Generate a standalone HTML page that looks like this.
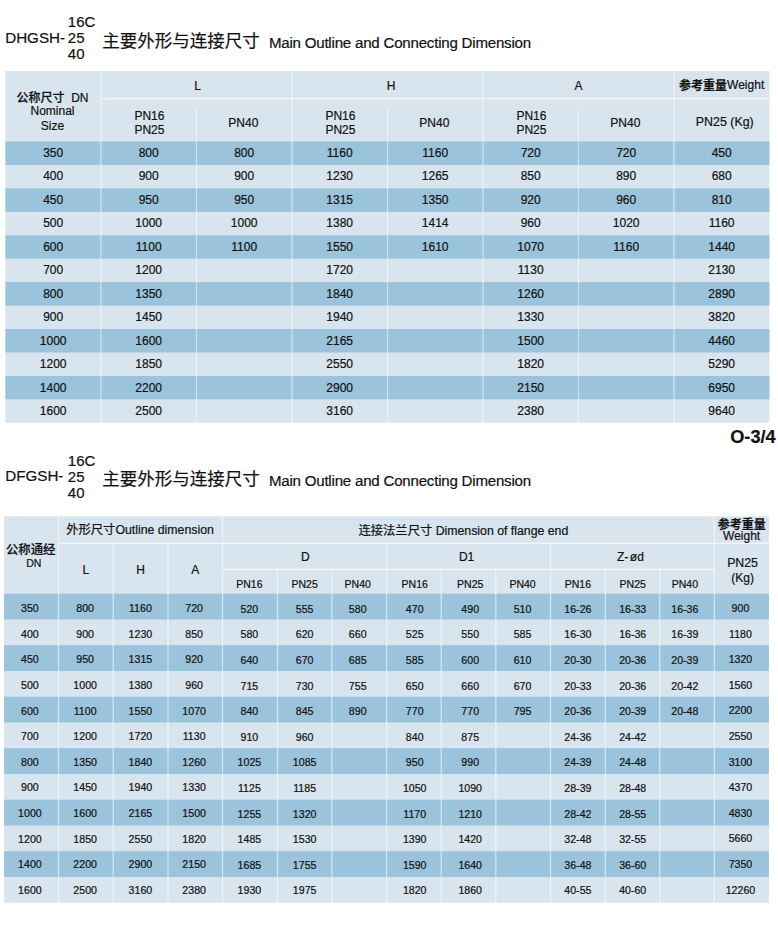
<!DOCTYPE html>
<html><head><meta charset="utf-8"><title>Main Outline and Connecting Dimension</title>
<style>
html,body{margin:0;padding:0;background:#fff}
body{width:778px;height:926px;overflow:hidden;position:relative}
.r{position:absolute}
.t{position:absolute;font-family:"Liberation Sans","Noto Sans CJK SC",sans-serif;color:#111;white-space:nowrap;-webkit-text-stroke:0.2px #111}
</style></head><body>
<svg width="778" height="926" style="position:absolute;left:0;top:0"><rect x="5.40" y="71.10" width="764.00" height="351.68" fill="#d8e4ee"/><rect x="5.40" y="141.50" width="764.00" height="23.44" fill="#9bc3dc"/><rect x="5.40" y="188.38" width="764.00" height="23.44" fill="#9bc3dc"/><rect x="5.40" y="235.26" width="764.00" height="23.44" fill="#9bc3dc"/><rect x="5.40" y="282.14" width="764.00" height="23.44" fill="#9bc3dc"/><rect x="5.40" y="329.02" width="764.00" height="23.44" fill="#9bc3dc"/><rect x="5.40" y="375.90" width="764.00" height="23.44" fill="#9bc3dc"/><rect x="99.90" y="71.10" width="2.00" height="351.68" fill="#fff" fill-opacity="0.36"/><rect x="290.90" y="71.10" width="2.00" height="351.68" fill="#fff" fill-opacity="0.36"/><rect x="481.90" y="71.10" width="2.00" height="351.68" fill="#fff" fill-opacity="0.36"/><rect x="672.90" y="71.10" width="2.00" height="351.68" fill="#fff" fill-opacity="0.36"/><rect x="195.90" y="109.00" width="1.20" height="313.78" fill="#fff" fill-opacity="0.5"/><rect x="386.90" y="109.00" width="1.20" height="313.78" fill="#fff" fill-opacity="0.5"/><rect x="577.90" y="109.00" width="1.20" height="313.78" fill="#fff" fill-opacity="0.5"/><rect x="101.90" y="97.95" width="667.50" height="1.30" fill="#fff" fill-opacity="0.75"/><rect x="4.10" y="516.30" width="764.80" height="386.40" fill="#d8e4ee"/><rect x="4.10" y="593.70" width="764.80" height="25.75" fill="#9bc3dc"/><rect x="4.10" y="645.20" width="764.80" height="25.75" fill="#9bc3dc"/><rect x="4.10" y="696.70" width="764.80" height="25.75" fill="#9bc3dc"/><rect x="4.10" y="748.20" width="764.80" height="25.75" fill="#9bc3dc"/><rect x="4.10" y="799.70" width="764.80" height="25.75" fill="#9bc3dc"/><rect x="4.10" y="851.20" width="764.80" height="25.75" fill="#9bc3dc"/><rect x="57.85" y="516.30" width="1.30" height="386.40" fill="#fff" fill-opacity="0.55"/><rect x="221.85" y="516.30" width="1.30" height="386.40" fill="#fff" fill-opacity="0.55"/><rect x="713.75" y="516.30" width="1.30" height="386.40" fill="#fff" fill-opacity="0.55"/><rect x="112.55" y="543.30" width="1.30" height="359.40" fill="#fff" fill-opacity="0.55"/><rect x="167.35" y="543.30" width="1.30" height="359.40" fill="#fff" fill-opacity="0.55"/><rect x="385.95" y="543.30" width="1.30" height="359.40" fill="#fff" fill-opacity="0.55"/><rect x="549.85" y="543.30" width="1.30" height="359.40" fill="#fff" fill-opacity="0.55"/><rect x="276.85" y="569.50" width="1.30" height="333.20" fill="#fff" fill-opacity="0.55"/><rect x="331.15" y="569.50" width="1.30" height="333.20" fill="#fff" fill-opacity="0.55"/><rect x="440.55" y="569.50" width="1.30" height="333.20" fill="#fff" fill-opacity="0.55"/><rect x="495.15" y="569.50" width="1.30" height="333.20" fill="#fff" fill-opacity="0.55"/><rect x="604.65" y="569.50" width="1.30" height="333.20" fill="#fff" fill-opacity="0.55"/><rect x="659.05" y="569.50" width="1.30" height="333.20" fill="#fff" fill-opacity="0.55"/><rect x="59.15" y="542.65" width="709.75" height="1.30" fill="#fff" fill-opacity="0.75"/><rect x="223.15" y="568.85" width="490.60" height="1.30" fill="#fff" fill-opacity="0.75"/></svg>
<div class="t" style="left:5.20px;top:30.13px;font-size:15.2px;line-height:15.2px;font-weight:400;">DHGSH-</div>
<div class="t" style="left:67.80px;top:14.30px;font-size:15px;line-height:15px;font-weight:400;">16C</div>
<div class="t" style="left:67.80px;top:30.30px;font-size:15px;line-height:15px;font-weight:400;">25</div>
<div class="t" style="left:67.80px;top:46.30px;font-size:15px;line-height:15px;font-weight:400;">40</div>
<div class="t" style="left:102.30px;top:32.79px;font-size:17.5px;line-height:17.5px;font-weight:400;">主要外形与连接尺寸</div>
<div class="t" style="left:268.90px;top:34.72px;font-size:15.1px;line-height:15.1px;font-weight:400;letter-spacing:-0.22px">Main Outline and Connecting Dimension</div>
<div class="t" style="left:-96.85px;top:146.94px;width:300px;font-size:12px;line-height:12px;font-weight:400;text-align:center;">350</div>
<div class="t" style="left:-96.85px;top:170.41px;width:300px;font-size:12px;line-height:12px;font-weight:400;text-align:center;">400</div>
<div class="t" style="left:-96.85px;top:193.88px;width:300px;font-size:12px;line-height:12px;font-weight:400;text-align:center;">450</div>
<div class="t" style="left:-96.85px;top:217.35px;width:300px;font-size:12px;line-height:12px;font-weight:400;text-align:center;">500</div>
<div class="t" style="left:-96.85px;top:240.82px;width:300px;font-size:12px;line-height:12px;font-weight:400;text-align:center;">600</div>
<div class="t" style="left:-96.85px;top:264.29px;width:300px;font-size:12px;line-height:12px;font-weight:400;text-align:center;">700</div>
<div class="t" style="left:-96.85px;top:287.76px;width:300px;font-size:12px;line-height:12px;font-weight:400;text-align:center;">800</div>
<div class="t" style="left:-96.85px;top:311.23px;width:300px;font-size:12px;line-height:12px;font-weight:400;text-align:center;">900</div>
<div class="t" style="left:-96.85px;top:334.70px;width:300px;font-size:12px;line-height:12px;font-weight:400;text-align:center;">1000</div>
<div class="t" style="left:-96.85px;top:358.17px;width:300px;font-size:12px;line-height:12px;font-weight:400;text-align:center;">1200</div>
<div class="t" style="left:-96.85px;top:381.64px;width:300px;font-size:12px;line-height:12px;font-weight:400;text-align:center;">1400</div>
<div class="t" style="left:-96.85px;top:405.11px;width:300px;font-size:12px;line-height:12px;font-weight:400;text-align:center;">1600</div>
<div class="t" style="left:-1.30px;top:146.94px;width:300px;font-size:12px;line-height:12px;font-weight:400;text-align:center;">800</div>
<div class="t" style="left:-1.30px;top:170.41px;width:300px;font-size:12px;line-height:12px;font-weight:400;text-align:center;">900</div>
<div class="t" style="left:-1.30px;top:193.88px;width:300px;font-size:12px;line-height:12px;font-weight:400;text-align:center;">950</div>
<div class="t" style="left:-1.30px;top:217.35px;width:300px;font-size:12px;line-height:12px;font-weight:400;text-align:center;">1000</div>
<div class="t" style="left:-1.30px;top:240.82px;width:300px;font-size:12px;line-height:12px;font-weight:400;text-align:center;">1100</div>
<div class="t" style="left:-1.30px;top:264.29px;width:300px;font-size:12px;line-height:12px;font-weight:400;text-align:center;">1200</div>
<div class="t" style="left:-1.30px;top:287.76px;width:300px;font-size:12px;line-height:12px;font-weight:400;text-align:center;">1350</div>
<div class="t" style="left:-1.30px;top:311.23px;width:300px;font-size:12px;line-height:12px;font-weight:400;text-align:center;">1450</div>
<div class="t" style="left:-1.30px;top:334.70px;width:300px;font-size:12px;line-height:12px;font-weight:400;text-align:center;">1600</div>
<div class="t" style="left:-1.30px;top:358.17px;width:300px;font-size:12px;line-height:12px;font-weight:400;text-align:center;">1850</div>
<div class="t" style="left:-1.30px;top:381.64px;width:300px;font-size:12px;line-height:12px;font-weight:400;text-align:center;">2200</div>
<div class="t" style="left:-1.30px;top:405.11px;width:300px;font-size:12px;line-height:12px;font-weight:400;text-align:center;">2500</div>
<div class="t" style="left:94.20px;top:146.94px;width:300px;font-size:12px;line-height:12px;font-weight:400;text-align:center;">800</div>
<div class="t" style="left:94.20px;top:170.41px;width:300px;font-size:12px;line-height:12px;font-weight:400;text-align:center;">900</div>
<div class="t" style="left:94.20px;top:193.88px;width:300px;font-size:12px;line-height:12px;font-weight:400;text-align:center;">950</div>
<div class="t" style="left:94.20px;top:217.35px;width:300px;font-size:12px;line-height:12px;font-weight:400;text-align:center;">1000</div>
<div class="t" style="left:94.20px;top:240.82px;width:300px;font-size:12px;line-height:12px;font-weight:400;text-align:center;">1100</div>
<div class="t" style="left:189.70px;top:146.94px;width:300px;font-size:12px;line-height:12px;font-weight:400;text-align:center;">1160</div>
<div class="t" style="left:189.70px;top:170.41px;width:300px;font-size:12px;line-height:12px;font-weight:400;text-align:center;">1230</div>
<div class="t" style="left:189.70px;top:193.88px;width:300px;font-size:12px;line-height:12px;font-weight:400;text-align:center;">1315</div>
<div class="t" style="left:189.70px;top:217.35px;width:300px;font-size:12px;line-height:12px;font-weight:400;text-align:center;">1380</div>
<div class="t" style="left:189.70px;top:240.82px;width:300px;font-size:12px;line-height:12px;font-weight:400;text-align:center;">1550</div>
<div class="t" style="left:189.70px;top:264.29px;width:300px;font-size:12px;line-height:12px;font-weight:400;text-align:center;">1720</div>
<div class="t" style="left:189.70px;top:287.76px;width:300px;font-size:12px;line-height:12px;font-weight:400;text-align:center;">1840</div>
<div class="t" style="left:189.70px;top:311.23px;width:300px;font-size:12px;line-height:12px;font-weight:400;text-align:center;">1940</div>
<div class="t" style="left:189.70px;top:334.70px;width:300px;font-size:12px;line-height:12px;font-weight:400;text-align:center;">2165</div>
<div class="t" style="left:189.70px;top:358.17px;width:300px;font-size:12px;line-height:12px;font-weight:400;text-align:center;">2550</div>
<div class="t" style="left:189.70px;top:381.64px;width:300px;font-size:12px;line-height:12px;font-weight:400;text-align:center;">2900</div>
<div class="t" style="left:189.70px;top:405.11px;width:300px;font-size:12px;line-height:12px;font-weight:400;text-align:center;">3160</div>
<div class="t" style="left:285.20px;top:146.94px;width:300px;font-size:12px;line-height:12px;font-weight:400;text-align:center;">1160</div>
<div class="t" style="left:285.20px;top:170.41px;width:300px;font-size:12px;line-height:12px;font-weight:400;text-align:center;">1265</div>
<div class="t" style="left:285.20px;top:193.88px;width:300px;font-size:12px;line-height:12px;font-weight:400;text-align:center;">1350</div>
<div class="t" style="left:285.20px;top:217.35px;width:300px;font-size:12px;line-height:12px;font-weight:400;text-align:center;">1414</div>
<div class="t" style="left:285.20px;top:240.82px;width:300px;font-size:12px;line-height:12px;font-weight:400;text-align:center;">1610</div>
<div class="t" style="left:380.70px;top:146.94px;width:300px;font-size:12px;line-height:12px;font-weight:400;text-align:center;">720</div>
<div class="t" style="left:380.70px;top:170.41px;width:300px;font-size:12px;line-height:12px;font-weight:400;text-align:center;">850</div>
<div class="t" style="left:380.70px;top:193.88px;width:300px;font-size:12px;line-height:12px;font-weight:400;text-align:center;">920</div>
<div class="t" style="left:380.70px;top:217.35px;width:300px;font-size:12px;line-height:12px;font-weight:400;text-align:center;">960</div>
<div class="t" style="left:380.70px;top:240.82px;width:300px;font-size:12px;line-height:12px;font-weight:400;text-align:center;">1070</div>
<div class="t" style="left:380.70px;top:264.29px;width:300px;font-size:12px;line-height:12px;font-weight:400;text-align:center;">1130</div>
<div class="t" style="left:380.70px;top:287.76px;width:300px;font-size:12px;line-height:12px;font-weight:400;text-align:center;">1260</div>
<div class="t" style="left:380.70px;top:311.23px;width:300px;font-size:12px;line-height:12px;font-weight:400;text-align:center;">1330</div>
<div class="t" style="left:380.70px;top:334.70px;width:300px;font-size:12px;line-height:12px;font-weight:400;text-align:center;">1500</div>
<div class="t" style="left:380.70px;top:358.17px;width:300px;font-size:12px;line-height:12px;font-weight:400;text-align:center;">1820</div>
<div class="t" style="left:380.70px;top:381.64px;width:300px;font-size:12px;line-height:12px;font-weight:400;text-align:center;">2150</div>
<div class="t" style="left:380.70px;top:405.11px;width:300px;font-size:12px;line-height:12px;font-weight:400;text-align:center;">2380</div>
<div class="t" style="left:476.20px;top:146.94px;width:300px;font-size:12px;line-height:12px;font-weight:400;text-align:center;">720</div>
<div class="t" style="left:476.20px;top:170.41px;width:300px;font-size:12px;line-height:12px;font-weight:400;text-align:center;">890</div>
<div class="t" style="left:476.20px;top:193.88px;width:300px;font-size:12px;line-height:12px;font-weight:400;text-align:center;">960</div>
<div class="t" style="left:476.20px;top:217.35px;width:300px;font-size:12px;line-height:12px;font-weight:400;text-align:center;">1020</div>
<div class="t" style="left:476.20px;top:240.82px;width:300px;font-size:12px;line-height:12px;font-weight:400;text-align:center;">1160</div>
<div class="t" style="left:571.65px;top:146.94px;width:300px;font-size:12px;line-height:12px;font-weight:400;text-align:center;">450</div>
<div class="t" style="left:571.65px;top:170.41px;width:300px;font-size:12px;line-height:12px;font-weight:400;text-align:center;">680</div>
<div class="t" style="left:571.65px;top:193.88px;width:300px;font-size:12px;line-height:12px;font-weight:400;text-align:center;">810</div>
<div class="t" style="left:571.65px;top:217.35px;width:300px;font-size:12px;line-height:12px;font-weight:400;text-align:center;">1160</div>
<div class="t" style="left:571.65px;top:240.82px;width:300px;font-size:12px;line-height:12px;font-weight:400;text-align:center;">1440</div>
<div class="t" style="left:571.65px;top:264.29px;width:300px;font-size:12px;line-height:12px;font-weight:400;text-align:center;">2130</div>
<div class="t" style="left:571.65px;top:287.76px;width:300px;font-size:12px;line-height:12px;font-weight:400;text-align:center;">2890</div>
<div class="t" style="left:571.65px;top:311.23px;width:300px;font-size:12px;line-height:12px;font-weight:400;text-align:center;">3820</div>
<div class="t" style="left:571.65px;top:334.70px;width:300px;font-size:12px;line-height:12px;font-weight:400;text-align:center;">4460</div>
<div class="t" style="left:571.65px;top:358.17px;width:300px;font-size:12px;line-height:12px;font-weight:400;text-align:center;">5290</div>
<div class="t" style="left:571.65px;top:381.64px;width:300px;font-size:12px;line-height:12px;font-weight:400;text-align:center;">6950</div>
<div class="t" style="left:571.65px;top:405.11px;width:300px;font-size:12px;line-height:12px;font-weight:400;text-align:center;">9640</div>
<div class="t" style="left:-97.50px;top:91.64px;width:300px;font-size:12px;line-height:12px;font-weight:400;text-align:center;"><span style="font-weight:500;position:relative;top:0.3px">公称尺寸</span>&nbsp; DN</div>
<div class="t" style="left:-97.50px;top:104.94px;width:300px;font-size:12px;line-height:12px;font-weight:400;text-align:center;">Nominal</div>
<div class="t" style="left:-97.50px;top:119.94px;width:300px;font-size:12px;line-height:12px;font-weight:400;text-align:center;">Size</div>
<div class="t" style="left:47.70px;top:80.04px;width:300px;font-size:12px;line-height:12px;font-weight:400;text-align:center;">L</div>
<div class="t" style="left:241.00px;top:80.04px;width:300px;font-size:12px;line-height:12px;font-weight:400;text-align:center;">H</div>
<div class="t" style="left:428.40px;top:80.04px;width:300px;font-size:12px;line-height:12px;font-weight:400;text-align:center;">A</div>
<div class="t" style="left:571.65px;top:78.84px;width:300px;font-size:12px;line-height:12px;font-weight:400;text-align:center;"><span style="font-weight:700;position:relative;top:1.2px">参考重量</span>Weight</div>
<div class="t" style="left:-0.60px;top:109.64px;width:300px;font-size:12px;line-height:12px;font-weight:400;text-align:center;">PN16</div>
<div class="t" style="left:-0.60px;top:123.64px;width:300px;font-size:12px;line-height:12px;font-weight:400;text-align:center;">PN25</div>
<div class="t" style="left:93.30px;top:116.94px;width:300px;font-size:12px;line-height:12px;font-weight:400;text-align:center;">PN40</div>
<div class="t" style="left:190.40px;top:109.64px;width:300px;font-size:12px;line-height:12px;font-weight:400;text-align:center;">PN16</div>
<div class="t" style="left:190.40px;top:123.64px;width:300px;font-size:12px;line-height:12px;font-weight:400;text-align:center;">PN25</div>
<div class="t" style="left:284.30px;top:116.94px;width:300px;font-size:12px;line-height:12px;font-weight:400;text-align:center;">PN40</div>
<div class="t" style="left:381.40px;top:109.64px;width:300px;font-size:12px;line-height:12px;font-weight:400;text-align:center;">PN16</div>
<div class="t" style="left:381.40px;top:123.64px;width:300px;font-size:12px;line-height:12px;font-weight:400;text-align:center;">PN25</div>
<div class="t" style="left:475.30px;top:116.94px;width:300px;font-size:12px;line-height:12px;font-weight:400;text-align:center;">PN40</div>
<div class="t" style="left:574.75px;top:116.40px;width:300px;font-size:12.4px;line-height:12.4px;font-weight:400;text-align:center;">PN25 (Kg)</div>
<div class="t" style="left:730.20px;top:427.59px;font-size:18.2px;line-height:18.2px;font-weight:700;">O-3/4</div>
<div class="t" style="left:5.20px;top:468.33px;font-size:15.2px;line-height:15.2px;font-weight:400;">DFGSH-</div>
<div class="t" style="left:67.80px;top:452.50px;font-size:15px;line-height:15px;font-weight:400;">16C</div>
<div class="t" style="left:67.80px;top:468.50px;font-size:15px;line-height:15px;font-weight:400;">25</div>
<div class="t" style="left:67.80px;top:484.50px;font-size:15px;line-height:15px;font-weight:400;">40</div>
<div class="t" style="left:102.30px;top:470.99px;font-size:17.5px;line-height:17.5px;font-weight:400;">主要外形与连接尺寸</div>
<div class="t" style="left:268.90px;top:472.92px;font-size:15.1px;line-height:15.1px;font-weight:400;letter-spacing:-0.22px">Main Outline and Connecting Dimension</div>
<div class="t" style="left:-120.10px;top:603.13px;width:300px;font-size:10.6px;line-height:10.6px;font-weight:400;text-align:center;">350</div>
<div class="t" style="left:-120.10px;top:628.74px;width:300px;font-size:10.6px;line-height:10.6px;font-weight:400;text-align:center;">400</div>
<div class="t" style="left:-120.10px;top:654.35px;width:300px;font-size:10.6px;line-height:10.6px;font-weight:400;text-align:center;">450</div>
<div class="t" style="left:-120.10px;top:679.96px;width:300px;font-size:10.6px;line-height:10.6px;font-weight:400;text-align:center;">500</div>
<div class="t" style="left:-120.10px;top:705.57px;width:300px;font-size:10.6px;line-height:10.6px;font-weight:400;text-align:center;">600</div>
<div class="t" style="left:-120.10px;top:731.18px;width:300px;font-size:10.6px;line-height:10.6px;font-weight:400;text-align:center;">700</div>
<div class="t" style="left:-120.10px;top:756.79px;width:300px;font-size:10.6px;line-height:10.6px;font-weight:400;text-align:center;">800</div>
<div class="t" style="left:-120.10px;top:782.40px;width:300px;font-size:10.6px;line-height:10.6px;font-weight:400;text-align:center;">900</div>
<div class="t" style="left:-120.10px;top:808.01px;width:300px;font-size:10.6px;line-height:10.6px;font-weight:400;text-align:center;">1000</div>
<div class="t" style="left:-120.10px;top:833.62px;width:300px;font-size:10.6px;line-height:10.6px;font-weight:400;text-align:center;">1200</div>
<div class="t" style="left:-120.10px;top:859.23px;width:300px;font-size:10.6px;line-height:10.6px;font-weight:400;text-align:center;">1400</div>
<div class="t" style="left:-120.10px;top:884.84px;width:300px;font-size:10.6px;line-height:10.6px;font-weight:400;text-align:center;">1600</div>
<div class="t" style="left:-64.85px;top:603.13px;width:300px;font-size:10.6px;line-height:10.6px;font-weight:400;text-align:center;">800</div>
<div class="t" style="left:-64.85px;top:628.74px;width:300px;font-size:10.6px;line-height:10.6px;font-weight:400;text-align:center;">900</div>
<div class="t" style="left:-64.85px;top:654.35px;width:300px;font-size:10.6px;line-height:10.6px;font-weight:400;text-align:center;">950</div>
<div class="t" style="left:-64.85px;top:679.96px;width:300px;font-size:10.6px;line-height:10.6px;font-weight:400;text-align:center;">1000</div>
<div class="t" style="left:-64.85px;top:705.57px;width:300px;font-size:10.6px;line-height:10.6px;font-weight:400;text-align:center;">1100</div>
<div class="t" style="left:-64.85px;top:731.18px;width:300px;font-size:10.6px;line-height:10.6px;font-weight:400;text-align:center;">1200</div>
<div class="t" style="left:-64.85px;top:756.79px;width:300px;font-size:10.6px;line-height:10.6px;font-weight:400;text-align:center;">1350</div>
<div class="t" style="left:-64.85px;top:782.40px;width:300px;font-size:10.6px;line-height:10.6px;font-weight:400;text-align:center;">1450</div>
<div class="t" style="left:-64.85px;top:808.01px;width:300px;font-size:10.6px;line-height:10.6px;font-weight:400;text-align:center;">1600</div>
<div class="t" style="left:-64.85px;top:833.62px;width:300px;font-size:10.6px;line-height:10.6px;font-weight:400;text-align:center;">1850</div>
<div class="t" style="left:-64.85px;top:859.23px;width:300px;font-size:10.6px;line-height:10.6px;font-weight:400;text-align:center;">2200</div>
<div class="t" style="left:-64.85px;top:884.84px;width:300px;font-size:10.6px;line-height:10.6px;font-weight:400;text-align:center;">2500</div>
<div class="t" style="left:-9.60px;top:603.13px;width:300px;font-size:10.6px;line-height:10.6px;font-weight:400;text-align:center;">1160</div>
<div class="t" style="left:-9.60px;top:628.74px;width:300px;font-size:10.6px;line-height:10.6px;font-weight:400;text-align:center;">1230</div>
<div class="t" style="left:-9.60px;top:654.35px;width:300px;font-size:10.6px;line-height:10.6px;font-weight:400;text-align:center;">1315</div>
<div class="t" style="left:-9.60px;top:679.96px;width:300px;font-size:10.6px;line-height:10.6px;font-weight:400;text-align:center;">1380</div>
<div class="t" style="left:-9.60px;top:705.57px;width:300px;font-size:10.6px;line-height:10.6px;font-weight:400;text-align:center;">1550</div>
<div class="t" style="left:-9.60px;top:731.18px;width:300px;font-size:10.6px;line-height:10.6px;font-weight:400;text-align:center;">1720</div>
<div class="t" style="left:-9.60px;top:756.79px;width:300px;font-size:10.6px;line-height:10.6px;font-weight:400;text-align:center;">1840</div>
<div class="t" style="left:-9.60px;top:782.40px;width:300px;font-size:10.6px;line-height:10.6px;font-weight:400;text-align:center;">1940</div>
<div class="t" style="left:-9.60px;top:808.01px;width:300px;font-size:10.6px;line-height:10.6px;font-weight:400;text-align:center;">2165</div>
<div class="t" style="left:-9.60px;top:833.62px;width:300px;font-size:10.6px;line-height:10.6px;font-weight:400;text-align:center;">2550</div>
<div class="t" style="left:-9.60px;top:859.23px;width:300px;font-size:10.6px;line-height:10.6px;font-weight:400;text-align:center;">2900</div>
<div class="t" style="left:-9.60px;top:884.84px;width:300px;font-size:10.6px;line-height:10.6px;font-weight:400;text-align:center;">3160</div>
<div class="t" style="left:44.15px;top:603.13px;width:300px;font-size:10.6px;line-height:10.6px;font-weight:400;text-align:center;">720</div>
<div class="t" style="left:44.15px;top:628.74px;width:300px;font-size:10.6px;line-height:10.6px;font-weight:400;text-align:center;">850</div>
<div class="t" style="left:44.15px;top:654.35px;width:300px;font-size:10.6px;line-height:10.6px;font-weight:400;text-align:center;">920</div>
<div class="t" style="left:44.15px;top:679.96px;width:300px;font-size:10.6px;line-height:10.6px;font-weight:400;text-align:center;">960</div>
<div class="t" style="left:44.15px;top:705.57px;width:300px;font-size:10.6px;line-height:10.6px;font-weight:400;text-align:center;">1070</div>
<div class="t" style="left:44.15px;top:731.18px;width:300px;font-size:10.6px;line-height:10.6px;font-weight:400;text-align:center;">1130</div>
<div class="t" style="left:44.15px;top:756.79px;width:300px;font-size:10.6px;line-height:10.6px;font-weight:400;text-align:center;">1260</div>
<div class="t" style="left:44.15px;top:782.40px;width:300px;font-size:10.6px;line-height:10.6px;font-weight:400;text-align:center;">1330</div>
<div class="t" style="left:44.15px;top:808.01px;width:300px;font-size:10.6px;line-height:10.6px;font-weight:400;text-align:center;">1500</div>
<div class="t" style="left:44.15px;top:833.62px;width:300px;font-size:10.6px;line-height:10.6px;font-weight:400;text-align:center;">1820</div>
<div class="t" style="left:44.15px;top:859.23px;width:300px;font-size:10.6px;line-height:10.6px;font-weight:400;text-align:center;">2150</div>
<div class="t" style="left:44.15px;top:884.84px;width:300px;font-size:10.6px;line-height:10.6px;font-weight:400;text-align:center;">2380</div>
<div class="t" style="left:99.40px;top:603.73px;width:300px;font-size:10.6px;line-height:10.6px;font-weight:400;text-align:center;">520</div>
<div class="t" style="left:99.40px;top:629.34px;width:300px;font-size:10.6px;line-height:10.6px;font-weight:400;text-align:center;">580</div>
<div class="t" style="left:99.40px;top:654.95px;width:300px;font-size:10.6px;line-height:10.6px;font-weight:400;text-align:center;">640</div>
<div class="t" style="left:99.40px;top:680.56px;width:300px;font-size:10.6px;line-height:10.6px;font-weight:400;text-align:center;">715</div>
<div class="t" style="left:99.40px;top:706.17px;width:300px;font-size:10.6px;line-height:10.6px;font-weight:400;text-align:center;">840</div>
<div class="t" style="left:99.40px;top:731.78px;width:300px;font-size:10.6px;line-height:10.6px;font-weight:400;text-align:center;">910</div>
<div class="t" style="left:99.40px;top:757.39px;width:300px;font-size:10.6px;line-height:10.6px;font-weight:400;text-align:center;">1025</div>
<div class="t" style="left:99.40px;top:783.00px;width:300px;font-size:10.6px;line-height:10.6px;font-weight:400;text-align:center;">1125</div>
<div class="t" style="left:99.40px;top:808.61px;width:300px;font-size:10.6px;line-height:10.6px;font-weight:400;text-align:center;">1255</div>
<div class="t" style="left:99.40px;top:834.22px;width:300px;font-size:10.6px;line-height:10.6px;font-weight:400;text-align:center;">1485</div>
<div class="t" style="left:99.40px;top:859.83px;width:300px;font-size:10.6px;line-height:10.6px;font-weight:400;text-align:center;">1685</div>
<div class="t" style="left:99.40px;top:885.44px;width:300px;font-size:10.6px;line-height:10.6px;font-weight:400;text-align:center;">1930</div>
<div class="t" style="left:154.65px;top:603.73px;width:300px;font-size:10.6px;line-height:10.6px;font-weight:400;text-align:center;">555</div>
<div class="t" style="left:154.65px;top:629.34px;width:300px;font-size:10.6px;line-height:10.6px;font-weight:400;text-align:center;">620</div>
<div class="t" style="left:154.65px;top:654.95px;width:300px;font-size:10.6px;line-height:10.6px;font-weight:400;text-align:center;">670</div>
<div class="t" style="left:154.65px;top:680.56px;width:300px;font-size:10.6px;line-height:10.6px;font-weight:400;text-align:center;">730</div>
<div class="t" style="left:154.65px;top:706.17px;width:300px;font-size:10.6px;line-height:10.6px;font-weight:400;text-align:center;">845</div>
<div class="t" style="left:154.65px;top:731.78px;width:300px;font-size:10.6px;line-height:10.6px;font-weight:400;text-align:center;">960</div>
<div class="t" style="left:154.65px;top:757.39px;width:300px;font-size:10.6px;line-height:10.6px;font-weight:400;text-align:center;">1085</div>
<div class="t" style="left:154.65px;top:783.00px;width:300px;font-size:10.6px;line-height:10.6px;font-weight:400;text-align:center;">1185</div>
<div class="t" style="left:154.65px;top:808.61px;width:300px;font-size:10.6px;line-height:10.6px;font-weight:400;text-align:center;">1320</div>
<div class="t" style="left:154.65px;top:834.22px;width:300px;font-size:10.6px;line-height:10.6px;font-weight:400;text-align:center;">1530</div>
<div class="t" style="left:154.65px;top:859.83px;width:300px;font-size:10.6px;line-height:10.6px;font-weight:400;text-align:center;">1755</div>
<div class="t" style="left:154.65px;top:885.44px;width:300px;font-size:10.6px;line-height:10.6px;font-weight:400;text-align:center;">1975</div>
<div class="t" style="left:207.70px;top:603.73px;width:300px;font-size:10.6px;line-height:10.6px;font-weight:400;text-align:center;">580</div>
<div class="t" style="left:207.70px;top:629.34px;width:300px;font-size:10.6px;line-height:10.6px;font-weight:400;text-align:center;">660</div>
<div class="t" style="left:207.70px;top:654.95px;width:300px;font-size:10.6px;line-height:10.6px;font-weight:400;text-align:center;">685</div>
<div class="t" style="left:207.70px;top:680.56px;width:300px;font-size:10.6px;line-height:10.6px;font-weight:400;text-align:center;">755</div>
<div class="t" style="left:207.70px;top:706.17px;width:300px;font-size:10.6px;line-height:10.6px;font-weight:400;text-align:center;">890</div>
<div class="t" style="left:264.70px;top:603.73px;width:300px;font-size:10.6px;line-height:10.6px;font-weight:400;text-align:center;">470</div>
<div class="t" style="left:264.70px;top:629.34px;width:300px;font-size:10.6px;line-height:10.6px;font-weight:400;text-align:center;">525</div>
<div class="t" style="left:264.70px;top:654.95px;width:300px;font-size:10.6px;line-height:10.6px;font-weight:400;text-align:center;">585</div>
<div class="t" style="left:264.70px;top:680.56px;width:300px;font-size:10.6px;line-height:10.6px;font-weight:400;text-align:center;">650</div>
<div class="t" style="left:264.70px;top:706.17px;width:300px;font-size:10.6px;line-height:10.6px;font-weight:400;text-align:center;">770</div>
<div class="t" style="left:264.70px;top:731.78px;width:300px;font-size:10.6px;line-height:10.6px;font-weight:400;text-align:center;">840</div>
<div class="t" style="left:264.70px;top:757.39px;width:300px;font-size:10.6px;line-height:10.6px;font-weight:400;text-align:center;">950</div>
<div class="t" style="left:264.70px;top:783.00px;width:300px;font-size:10.6px;line-height:10.6px;font-weight:400;text-align:center;">1050</div>
<div class="t" style="left:264.70px;top:808.61px;width:300px;font-size:10.6px;line-height:10.6px;font-weight:400;text-align:center;">1170</div>
<div class="t" style="left:264.70px;top:834.22px;width:300px;font-size:10.6px;line-height:10.6px;font-weight:400;text-align:center;">1390</div>
<div class="t" style="left:264.70px;top:859.83px;width:300px;font-size:10.6px;line-height:10.6px;font-weight:400;text-align:center;">1590</div>
<div class="t" style="left:264.70px;top:885.44px;width:300px;font-size:10.6px;line-height:10.6px;font-weight:400;text-align:center;">1820</div>
<div class="t" style="left:320.20px;top:603.73px;width:300px;font-size:10.6px;line-height:10.6px;font-weight:400;text-align:center;">490</div>
<div class="t" style="left:320.20px;top:629.34px;width:300px;font-size:10.6px;line-height:10.6px;font-weight:400;text-align:center;">550</div>
<div class="t" style="left:320.20px;top:654.95px;width:300px;font-size:10.6px;line-height:10.6px;font-weight:400;text-align:center;">600</div>
<div class="t" style="left:320.20px;top:680.56px;width:300px;font-size:10.6px;line-height:10.6px;font-weight:400;text-align:center;">660</div>
<div class="t" style="left:320.20px;top:706.17px;width:300px;font-size:10.6px;line-height:10.6px;font-weight:400;text-align:center;">770</div>
<div class="t" style="left:320.20px;top:731.78px;width:300px;font-size:10.6px;line-height:10.6px;font-weight:400;text-align:center;">875</div>
<div class="t" style="left:320.20px;top:757.39px;width:300px;font-size:10.6px;line-height:10.6px;font-weight:400;text-align:center;">990</div>
<div class="t" style="left:320.20px;top:783.00px;width:300px;font-size:10.6px;line-height:10.6px;font-weight:400;text-align:center;">1090</div>
<div class="t" style="left:320.20px;top:808.61px;width:300px;font-size:10.6px;line-height:10.6px;font-weight:400;text-align:center;">1210</div>
<div class="t" style="left:320.20px;top:834.22px;width:300px;font-size:10.6px;line-height:10.6px;font-weight:400;text-align:center;">1420</div>
<div class="t" style="left:320.20px;top:859.83px;width:300px;font-size:10.6px;line-height:10.6px;font-weight:400;text-align:center;">1640</div>
<div class="t" style="left:320.20px;top:885.44px;width:300px;font-size:10.6px;line-height:10.6px;font-weight:400;text-align:center;">1860</div>
<div class="t" style="left:372.55px;top:603.73px;width:300px;font-size:10.6px;line-height:10.6px;font-weight:400;text-align:center;">510</div>
<div class="t" style="left:372.55px;top:629.34px;width:300px;font-size:10.6px;line-height:10.6px;font-weight:400;text-align:center;">585</div>
<div class="t" style="left:372.55px;top:654.95px;width:300px;font-size:10.6px;line-height:10.6px;font-weight:400;text-align:center;">610</div>
<div class="t" style="left:372.55px;top:680.56px;width:300px;font-size:10.6px;line-height:10.6px;font-weight:400;text-align:center;">670</div>
<div class="t" style="left:372.55px;top:706.17px;width:300px;font-size:10.6px;line-height:10.6px;font-weight:400;text-align:center;">795</div>
<div class="t" style="left:427.90px;top:603.73px;width:300px;font-size:10.6px;line-height:10.6px;font-weight:400;text-align:center;">16-26</div>
<div class="t" style="left:427.90px;top:629.34px;width:300px;font-size:10.6px;line-height:10.6px;font-weight:400;text-align:center;">16-30</div>
<div class="t" style="left:427.90px;top:654.95px;width:300px;font-size:10.6px;line-height:10.6px;font-weight:400;text-align:center;">20-30</div>
<div class="t" style="left:427.90px;top:680.56px;width:300px;font-size:10.6px;line-height:10.6px;font-weight:400;text-align:center;">20-33</div>
<div class="t" style="left:427.90px;top:706.17px;width:300px;font-size:10.6px;line-height:10.6px;font-weight:400;text-align:center;">20-36</div>
<div class="t" style="left:427.90px;top:731.78px;width:300px;font-size:10.6px;line-height:10.6px;font-weight:400;text-align:center;">24-36</div>
<div class="t" style="left:427.90px;top:757.39px;width:300px;font-size:10.6px;line-height:10.6px;font-weight:400;text-align:center;">24-39</div>
<div class="t" style="left:427.90px;top:783.00px;width:300px;font-size:10.6px;line-height:10.6px;font-weight:400;text-align:center;">28-39</div>
<div class="t" style="left:427.90px;top:808.61px;width:300px;font-size:10.6px;line-height:10.6px;font-weight:400;text-align:center;">28-42</div>
<div class="t" style="left:427.90px;top:834.22px;width:300px;font-size:10.6px;line-height:10.6px;font-weight:400;text-align:center;">32-48</div>
<div class="t" style="left:427.90px;top:859.83px;width:300px;font-size:10.6px;line-height:10.6px;font-weight:400;text-align:center;">36-48</div>
<div class="t" style="left:427.90px;top:885.44px;width:300px;font-size:10.6px;line-height:10.6px;font-weight:400;text-align:center;">40-55</div>
<div class="t" style="left:482.70px;top:603.73px;width:300px;font-size:10.6px;line-height:10.6px;font-weight:400;text-align:center;">16-33</div>
<div class="t" style="left:482.70px;top:629.34px;width:300px;font-size:10.6px;line-height:10.6px;font-weight:400;text-align:center;">16-36</div>
<div class="t" style="left:482.70px;top:654.95px;width:300px;font-size:10.6px;line-height:10.6px;font-weight:400;text-align:center;">20-36</div>
<div class="t" style="left:482.70px;top:680.56px;width:300px;font-size:10.6px;line-height:10.6px;font-weight:400;text-align:center;">20-36</div>
<div class="t" style="left:482.70px;top:706.17px;width:300px;font-size:10.6px;line-height:10.6px;font-weight:400;text-align:center;">20-39</div>
<div class="t" style="left:482.70px;top:731.78px;width:300px;font-size:10.6px;line-height:10.6px;font-weight:400;text-align:center;">24-42</div>
<div class="t" style="left:482.70px;top:757.39px;width:300px;font-size:10.6px;line-height:10.6px;font-weight:400;text-align:center;">24-48</div>
<div class="t" style="left:482.70px;top:783.00px;width:300px;font-size:10.6px;line-height:10.6px;font-weight:400;text-align:center;">28-48</div>
<div class="t" style="left:482.70px;top:808.61px;width:300px;font-size:10.6px;line-height:10.6px;font-weight:400;text-align:center;">28-55</div>
<div class="t" style="left:482.70px;top:834.22px;width:300px;font-size:10.6px;line-height:10.6px;font-weight:400;text-align:center;">32-55</div>
<div class="t" style="left:482.70px;top:859.83px;width:300px;font-size:10.6px;line-height:10.6px;font-weight:400;text-align:center;">36-60</div>
<div class="t" style="left:482.70px;top:885.44px;width:300px;font-size:10.6px;line-height:10.6px;font-weight:400;text-align:center;">40-60</div>
<div class="t" style="left:534.85px;top:603.73px;width:300px;font-size:10.6px;line-height:10.6px;font-weight:400;text-align:center;">16-36</div>
<div class="t" style="left:534.85px;top:629.34px;width:300px;font-size:10.6px;line-height:10.6px;font-weight:400;text-align:center;">16-39</div>
<div class="t" style="left:534.85px;top:654.95px;width:300px;font-size:10.6px;line-height:10.6px;font-weight:400;text-align:center;">20-39</div>
<div class="t" style="left:534.85px;top:680.56px;width:300px;font-size:10.6px;line-height:10.6px;font-weight:400;text-align:center;">20-42</div>
<div class="t" style="left:534.85px;top:706.17px;width:300px;font-size:10.6px;line-height:10.6px;font-weight:400;text-align:center;">20-48</div>
<div class="t" style="left:590.45px;top:602.93px;width:300px;font-size:10.6px;line-height:10.6px;font-weight:400;text-align:center;">900</div>
<div class="t" style="left:590.45px;top:628.54px;width:300px;font-size:10.6px;line-height:10.6px;font-weight:400;text-align:center;">1180</div>
<div class="t" style="left:590.45px;top:654.15px;width:300px;font-size:10.6px;line-height:10.6px;font-weight:400;text-align:center;">1320</div>
<div class="t" style="left:590.45px;top:679.76px;width:300px;font-size:10.6px;line-height:10.6px;font-weight:400;text-align:center;">1560</div>
<div class="t" style="left:590.45px;top:705.37px;width:300px;font-size:10.6px;line-height:10.6px;font-weight:400;text-align:center;">2200</div>
<div class="t" style="left:590.45px;top:730.98px;width:300px;font-size:10.6px;line-height:10.6px;font-weight:400;text-align:center;">2550</div>
<div class="t" style="left:590.45px;top:756.59px;width:300px;font-size:10.6px;line-height:10.6px;font-weight:400;text-align:center;">3100</div>
<div class="t" style="left:590.45px;top:782.20px;width:300px;font-size:10.6px;line-height:10.6px;font-weight:400;text-align:center;">4370</div>
<div class="t" style="left:590.45px;top:807.81px;width:300px;font-size:10.6px;line-height:10.6px;font-weight:400;text-align:center;">4830</div>
<div class="t" style="left:590.45px;top:833.42px;width:300px;font-size:10.6px;line-height:10.6px;font-weight:400;text-align:center;">5660</div>
<div class="t" style="left:590.45px;top:859.03px;width:300px;font-size:10.6px;line-height:10.6px;font-weight:400;text-align:center;">7350</div>
<div class="t" style="left:590.45px;top:884.64px;width:300px;font-size:10.6px;line-height:10.6px;font-weight:400;text-align:center;">12260</div>
<div class="t" style="left:-119.30px;top:543.50px;width:300px;font-size:12.4px;line-height:12.4px;font-weight:500;text-align:center;">公称通经</div>
<div class="t" style="left:-116.20px;top:557.81px;width:300px;font-size:10.5px;line-height:10.5px;font-weight:400;text-align:center;">DN</div>
<div class="t" style="left:-10.00px;top:524.39px;width:300px;font-size:12.3px;line-height:12.3px;font-weight:400;text-align:center;">外形尺寸Outline dimension</div>
<div class="t" style="left:-64.15px;top:563.84px;width:300px;font-size:12px;line-height:12px;font-weight:400;text-align:center;">L</div>
<div class="t" style="left:-9.40px;top:563.84px;width:300px;font-size:12px;line-height:12px;font-weight:400;text-align:center;">H</div>
<div class="t" style="left:45.25px;top:563.84px;width:300px;font-size:12px;line-height:12px;font-weight:400;text-align:center;">A</div>
<div class="t" style="left:313.40px;top:524.79px;width:300px;font-size:12.3px;line-height:12.3px;font-weight:400;text-align:center;">连接法兰尺寸 Dimension of flange end</div>
<div class="t" style="left:155.35px;top:551.14px;width:300px;font-size:12px;line-height:12px;font-weight:400;text-align:center;">D</div>
<div class="t" style="left:99.40px;top:578.61px;width:300px;font-size:10.5px;line-height:10.5px;font-weight:400;text-align:center;">PN16</div>
<div class="t" style="left:154.65px;top:578.61px;width:300px;font-size:10.5px;line-height:10.5px;font-weight:400;text-align:center;">PN25</div>
<div class="t" style="left:207.70px;top:578.61px;width:300px;font-size:10.5px;line-height:10.5px;font-weight:400;text-align:center;">PN40</div>
<div class="t" style="left:316.55px;top:551.14px;width:300px;font-size:12px;line-height:12px;font-weight:400;text-align:center;">D1</div>
<div class="t" style="left:264.70px;top:578.61px;width:300px;font-size:10.5px;line-height:10.5px;font-weight:400;text-align:center;">PN16</div>
<div class="t" style="left:320.20px;top:578.61px;width:300px;font-size:10.5px;line-height:10.5px;font-weight:400;text-align:center;">PN25</div>
<div class="t" style="left:372.55px;top:578.61px;width:300px;font-size:10.5px;line-height:10.5px;font-weight:400;text-align:center;">PN40</div>
<div class="t" style="left:480.45px;top:551.14px;width:300px;font-size:12px;line-height:12px;font-weight:400;text-align:center;">Z-<span style="margin-left:1.5px"></span>ød</div>
<div class="t" style="left:427.90px;top:578.61px;width:300px;font-size:10.5px;line-height:10.5px;font-weight:400;text-align:center;">PN16</div>
<div class="t" style="left:482.70px;top:578.61px;width:300px;font-size:10.5px;line-height:10.5px;font-weight:400;text-align:center;">PN25</div>
<div class="t" style="left:534.85px;top:578.61px;width:300px;font-size:10.5px;line-height:10.5px;font-weight:400;text-align:center;">PN40</div>
<div class="t" style="left:591.65px;top:519.34px;width:300px;font-size:12px;line-height:12px;font-weight:700;text-align:center;">参考重量</div>
<div class="t" style="left:591.65px;top:530.34px;width:300px;font-size:12px;line-height:12px;font-weight:400;text-align:center;">Weight</div>
<div class="t" style="left:592.55px;top:557.39px;width:300px;font-size:12.3px;line-height:12.3px;font-weight:400;text-align:center;">PN25</div>
<div class="t" style="left:592.65px;top:572.14px;width:300px;font-size:12px;line-height:12px;font-weight:400;text-align:center;">(Kg)</div>
</body></html>
